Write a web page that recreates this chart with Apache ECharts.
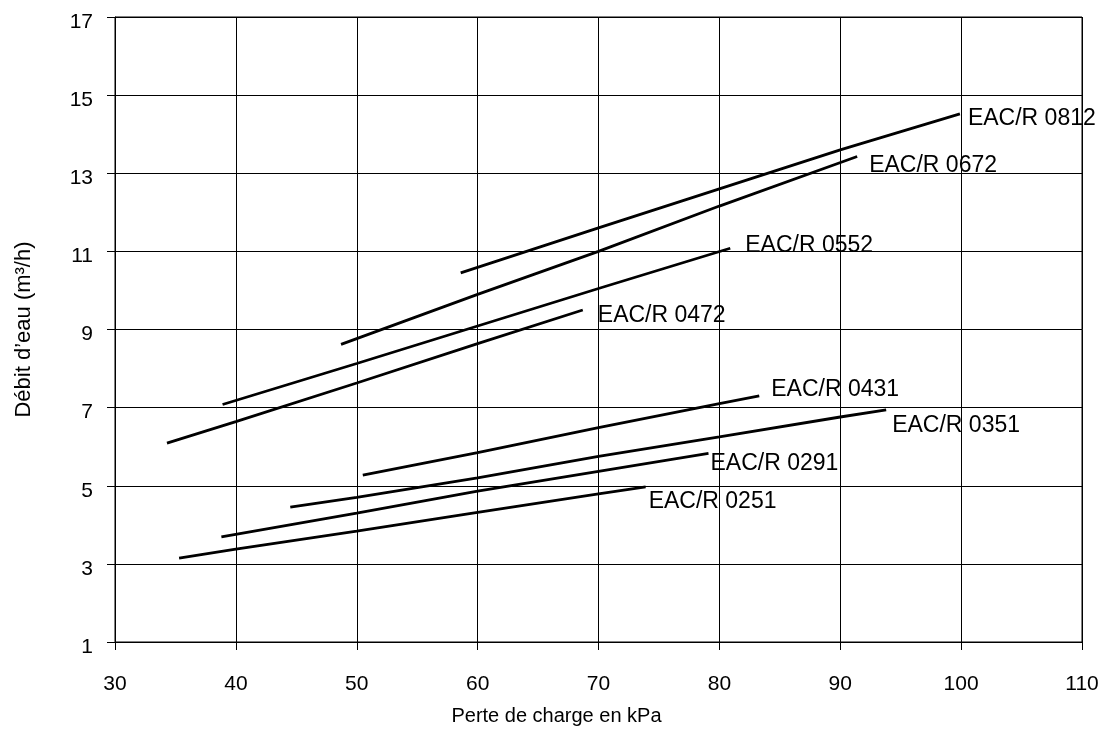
<!DOCTYPE html>
<html>
<head>
<meta charset="utf-8">
<script src="https://cdn.jsdelivr.net/npm/echarts@6/dist/echarts.min.js"></script>
<style>
html,body{margin:0;padding:0;background:#fff;}
#chart{width:1102px;height:729px;}
</style>
</head>
<body>
<div id="chart"></div>
<script>
// ---- data ----
const xTicks = [30, 40, 50, 60, 70, 80, 90, 100, 110];
const yTicks = [1, 3, 5, 7, 9, 11, 13, 15, 17];
const xAxisTitle = 'Perte de charge en kPa';
const yAxisTitle = 'Débit d’eau (m³/h)';

const seriesNames = ['EAC/R 0251', 'EAC/R 0291', 'EAC/R 0351', 'EAC/R 0431',
                     'EAC/R 0472', 'EAC/R 0552', 'EAC/R 0672', 'EAC/R 0812'];

const eac0251 = [[35.3, 3.15], [40, 3.38], [50, 3.84], [60, 4.32], [70, 4.79], [73.9, 4.97]];
const eac0291 = [[38.8, 3.69], [50, 4.30], [60, 4.86], [70, 5.37], [79.1, 5.83]];
const eac0351 = [[44.5, 4.45], [50, 4.70], [60, 5.20], [70, 5.75], [80, 6.25], [90, 6.76], [93.8, 6.94]];
const eac0431 = [[50.5, 5.27], [60, 5.85], [70, 6.49], [80, 7.10], [83.3, 7.30]];
const eac0472 = [[34.3, 6.09], [40, 6.64], [50, 7.63], [60, 8.64], [68.7, 9.50]];
const eac0552 = [[38.9, 7.08], [50, 8.13], [60, 9.09], [70, 10.05], [80.9, 11.08]];
const eac0672 = [[48.7, 8.62], [60, 9.90], [70, 11.00], [80, 12.16], [91.4, 13.43]];
const eac0812 = [[58.6, 10.45], [70, 11.60], [80, 12.60], [90, 13.60], [99.9, 14.52]];

const seriesData = [eac0251, eac0291, eac0351, eac0431, eac0472, eac0552, eac0672, eac0812];

// label offsets (style only)
const labelOffsets = [[3, 15], [2, 10], [6, 16], [12, -6], [15, 6], [15, -3], [12, 9], [8, 5]];

const FONT = '"Liberation Sans", Arial, Helvetica, sans-serif';

const chart = echarts.init(document.getElementById('chart'), null, {renderer: 'canvas'});

const series = seriesNames.map((name, i) => ({
  name: name,
  type: 'line',
  data: seriesData[i],
  showSymbol: false,
  symbol: 'none',
  silent: true,
  lineStyle: {color: '#000', width: 2.8},
  endLabel: {
    show: true,
    formatter: '{a}',
    distance: 0,
    offset: labelOffsets[i],
    color: '#000',
    fontFamily: FONT,
    fontSize: 23
  }
}));

chart.setOption({
  animation: false,
  backgroundColor: '#fff',
  textStyle: {fontFamily: FONT},
  grid: {
    left: 115, right: 20, top: 17, bottom: 87,
    show: true, borderColor: '#000', borderWidth: 1,
    containLabel: false, outerBoundsMode: 'none'
  },
  xAxis: {
    type: 'value',
    min: xTicks[0], max: xTicks[xTicks.length - 1], interval: 10,
    name: xAxisTitle,
    nameLocation: 'middle',
    nameGap: 64,
    nameTextStyle: {color: '#000', fontSize: 20, fontFamily: FONT, padding: [0, 84, 0, 0]},
    axisLine: {show: true, lineStyle: {color: '#000', width: 1}},
    axisTick: {show: true, length: 8, lineStyle: {color: '#000'}},
    axisLabel: {color: '#000', fontSize: 21, margin: 32, fontFamily: FONT},
    splitLine: {show: true, lineStyle: {color: '#000', width: 1}}
  },
  yAxis: {
    type: 'value',
    min: yTicks[0], max: yTicks[yTicks.length - 1], interval: 2,
    name: yAxisTitle,
    nameLocation: 'middle',
    nameGap: 80,
    nameTextStyle: {color: '#000', fontSize: 22, fontFamily: FONT},
    axisLine: {show: true, lineStyle: {color: '#000', width: 1}},
    axisTick: {show: true, length: 8, lineStyle: {color: '#000'}},
    axisLabel: {color: '#000', fontSize: 21, margin: 22, fontFamily: FONT, verticalAlign: 'top', lineHeight: 10},
    splitLine: {show: true, lineStyle: {color: '#000', width: 1}}
  },
  series: series
});
</script>
</body>
</html>
